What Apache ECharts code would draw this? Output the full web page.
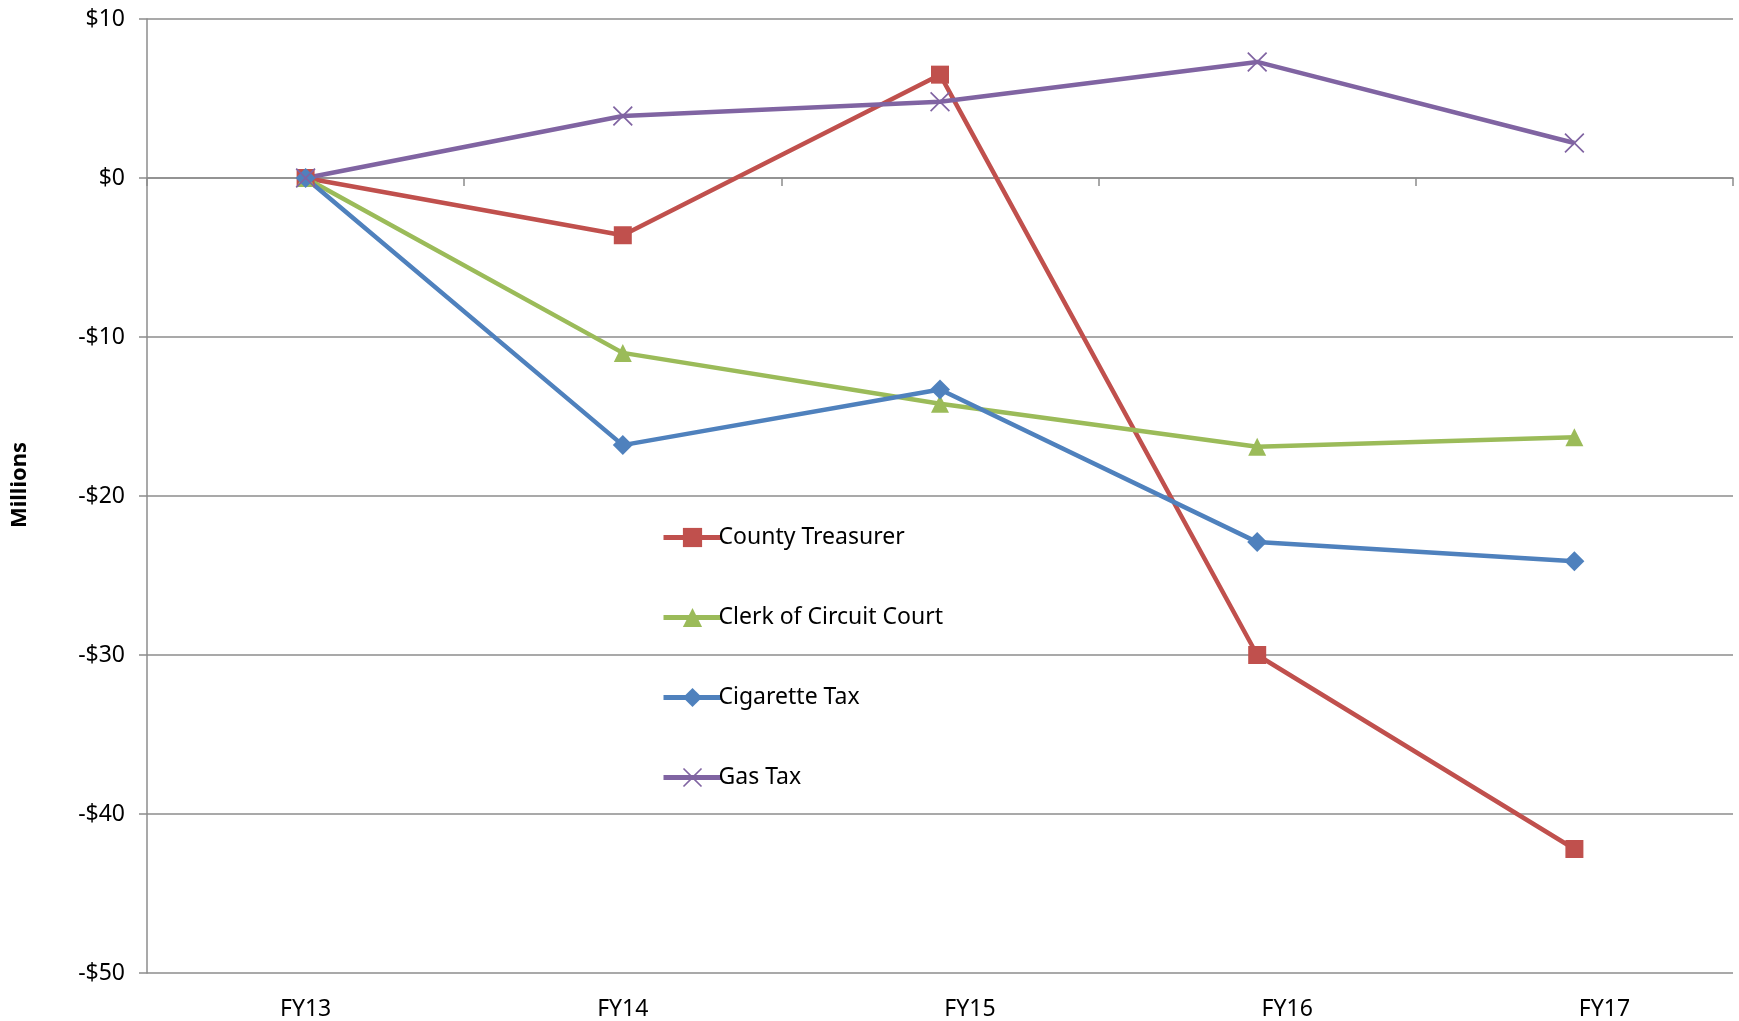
<!DOCTYPE html>
<html>
<head>
<meta charset="utf-8">
<title>Revenue change</title>
<script src="https://cdn.jsdelivr.net/npm/echarts@6/dist/echarts.min.js"></script>
<style>
  html, body { margin: 0; padding: 0; background: #fff; }
  #chart { width: 1739px; height: 1021px; }
</style>
</head>
<body>
<div id="chart"></div>
<script>
// values, millions of dollars vs FY13
var years = ['FY13', 'FY14', 'FY15', 'FY16', 'FY17'];
var countyTreasurer = [0, -3.6, 6.5, -30.0, -42.2];
var clerkCircuitCourt = [0, -11.0, -14.2, -16.9, -16.3];
var cigaretteTax = [0, -16.8, -13.3, -22.9, -24.1];
var gasTax = [0, 3.9, 4.8, 7.3, 2.2];

var fontFamily = '"Noto Sans", "Open Sans", sans-serif';
var gridColor = '#8c8c8c';

// thin X marker like the Excel one
var crossPath = 'path://M0,1.2 L1.2,0 L10,8.8 L18.8,0 L20,1.2 L11.2,10 L20,18.8 L18.8,20 L10,11.2 L1.2,20 L0,18.8 L8.8,10 Z';

function money(v) {
  if (v < 0) return '-$' + Math.abs(v);
  return '$' + v;
}

function makeSeries(name, data, color, symbol, size) {
  return {
    name: name,
    type: 'line',
    data: data,
    xAxisIndex: 0,
    symbol: symbol,
    symbolSize: size,
    showAllSymbol: true,
    lineStyle: { color: color, width: 4.5 },
    itemStyle: { color: color, borderColor: color, borderWidth: 0, opacity: 1 },
    emphasis: { disabled: true },
    animation: false
  };
}

// the bottom labels in the source sit a bit right of the points from FY15 on
var labelCats = years.map(function (y, i) {
  if (i < 2) return y;
  return { value: y, textStyle: { padding: [0, 0, 0, 60] } };
});

var myChart = echarts.init(document.getElementById('chart'));
var option = {
  backgroundColor: '#ffffff',
  textStyle: { fontFamily: fontFamily },
  grid: { left: 147, right: 6, top: 19, bottom: 48, containLabel: false },
  legend: {
    orient: 'vertical',
    left: 656,
    top: 521,
    itemWidth: 58,
    itemHeight: 24,
    itemGap: 57,
    data: ['County Treasurer', 'Clerk of Circuit Court', 'Cigarette Tax', 'Gas Tax'],
    lineStyle: { width: 5 },
    textStyle: { fontFamily: fontFamily, fontSize: 23, color: '#000', padding: [0, 0, 0, -8] },
    selectedMode: false
  },
  xAxis: [
    {
      type: 'category',
      data: years,
      position: 'bottom',
      boundaryGap: true,
      axisLine: { show: true, onZero: true, lineStyle: { color: gridColor, width: 1.5 } },
      axisTick: { show: true, length: 8, lineStyle: { color: gridColor, width: 1.5 } },
      axisLabel: { show: false },
      splitLine: { show: false }
    },
    {
      type: 'category',
      data: labelCats,
      position: 'bottom',
      boundaryGap: true,
      axisLine: { show: false, onZero: false },
      axisTick: { show: false },
      axisLabel: { show: true, margin: 25, fontFamily: fontFamily, fontSize: 23, color: '#000' },
      splitLine: { show: false }
    }
  ],
  yAxis: {
    type: 'value',
    min: -50,
    max: 10,
    interval: 10,
    name: 'Millions',
    nameLocation: 'middle',
    nameRotate: 90,
    nameGap: 116,
    nameTextStyle: { fontFamily: fontFamily, fontSize: 22, fontWeight: 'bold', color: '#000', padding: [0, 0, 0, 22] },
    axisLine: { show: true, lineStyle: { color: gridColor, width: 1.5 } },
    axisTick: { show: true, length: 8, lineStyle: { color: gridColor, width: 1.5 } },
    axisLabel: { margin: 22, fontFamily: fontFamily, fontSize: 23, color: '#000', formatter: money },
    splitLine: { show: true, lineStyle: { color: gridColor, width: 1.5 } }
  },
  series: [
    makeSeries('County Treasurer', countyTreasurer, '#C0504D', 'rect', 18),
    makeSeries('Clerk of Circuit Court', clerkCircuitCourt, '#9BBB59', 'triangle', 18),
    makeSeries('Cigarette Tax', cigaretteTax, '#4F81BD', 'diamond', 20),
    makeSeries('Gas Tax', gasTax, '#8064A2', crossPath, 20)
  ]
};
myChart.setOption(option);
</script>
</body>
</html>
